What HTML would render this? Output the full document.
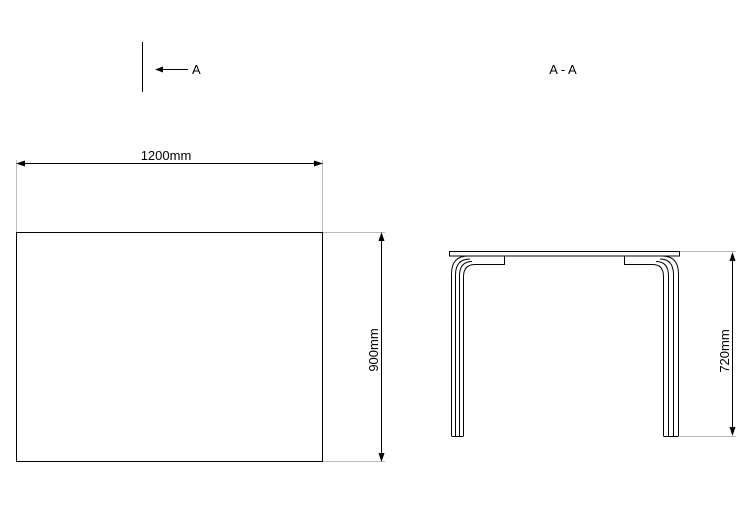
<!DOCTYPE html>
<html><head><style>body{margin:0;background:#fff}</style></head><body>
<svg width="750" height="500" xmlns="http://www.w3.org/2000/svg" font-family="Liberation Sans, sans-serif" font-size="13">
<rect width="750" height="500" fill="#fff"/>
<g stroke="#000" fill="none" stroke-width="1">
<line x1="142.5" y1="42" x2="142.5" y2="92"/>
<line x1="160" y1="69.5" x2="188" y2="69.5"/>
<rect x="16.5" y="232.5" width="306" height="229"/>
<line x1="20" y1="163.5" x2="320" y2="163.5"/>
<line x1="381.5" y1="236" x2="381.5" y2="458"/>
<line x1="732.5" y1="256" x2="732.5" y2="432"/>
<rect x="449.5" y="251.5" width="230" height="4.5"/>
<path d="M451.5 436V274Q451.5 256 468 256"/>
<path d="M455.5 436V275Q455.5 259 470 259"/>
<path d="M459.5 436V276Q459.5 261.5 472 261.5"/>
<path d="M463.5 436V277Q463.5 264.5 475 264.5H504.5V256"/>
<line x1="451.5" y1="436.5" x2="463.5" y2="436.5"/>
<path d="M465 256H504.5"/>
<path d="M678.5 436V274Q678.5 256 662 256"/>
<path d="M673.5 436V275Q673.5 259 660 259"/>
<path d="M668.5 436V276Q668.5 261.5 656 261.5"/>
<path d="M663.5 436V277Q663.5 264.5 653 264.5H624.5V256"/>
<line x1="663.5" y1="436.5" x2="678.5" y2="436.5"/>
</g>
<g stroke="#bbb" stroke-width="1">
<line x1="16.5" y1="160" x2="16.5" y2="232"/>
<line x1="322.5" y1="160" x2="322.5" y2="232"/>
<line x1="323" y1="232.5" x2="385" y2="232.5"/>
<line x1="323" y1="461.5" x2="385" y2="461.5"/>
<line x1="680" y1="251.5" x2="736" y2="251.5"/>
<line x1="679" y1="436.5" x2="736" y2="436.5"/>
</g>
<g fill="#000">
<polygon points="155,69.5 163,66.5 163,72.5"/>
<polygon points="16,163.5 25,160.5 25,166.5"/>
<polygon points="323,163.5 314,160.5 314,166.5"/>
<polygon points="381.5,232 378.5,241 384.5,241"/>
<polygon points="381.5,462 378.5,453 384.5,453"/>
<polygon points="732.5,252 729.5,261 735.5,261"/>
<polygon points="732.5,436 729.5,427 735.5,427"/>
</g>
<text x="192" y="74">A</text>
<text x="563" y="74" text-anchor="middle">A - A</text>
<text x="166" y="160" text-anchor="middle">1200mm</text>
<text transform="translate(378,350) rotate(-90)" text-anchor="middle">900mm</text>
<text transform="translate(729,351) rotate(-90)" text-anchor="middle">720mm</text>
</svg>
</body></html>
